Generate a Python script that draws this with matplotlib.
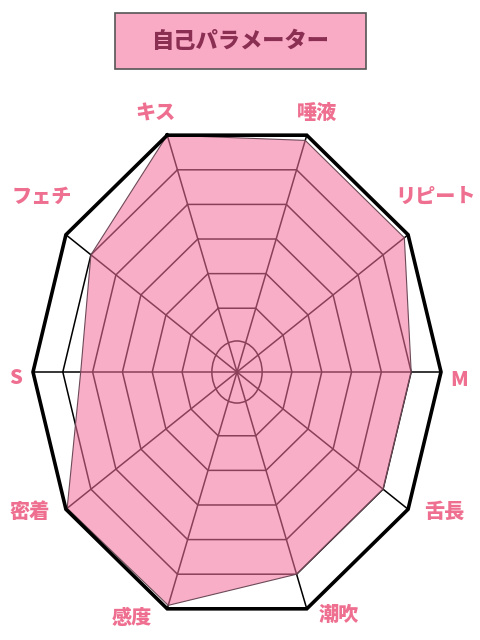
import numpy as np
import matplotlib.pyplot as plt
from matplotlib.patches import Rectangle, Ellipse

plt.rcParams['font.family'] = ['Noto Sans CJK JP', 'DejaVu Sans']

# data: categories clockwise from the top-left corner
title = '自己パラメーター'
categories = ['キス', '唾液', 'リピート', 'M', '舌長', '潮吹', '感度', '密着', 'S', 'フェチ']
values = [7.0, 6.85, 6.85, 6.0, 6.0, 6.0, 6.9, 6.95, 5.4, 6.0]
ring_levels = [2, 3, 4, 5, 6]
circle_level = 1
max_level = 7

# layout (units are pixels, chart centre at origin)
angles = np.deg2rad([110, 70, 33, 0, -33, -70, -110, -147, 180, 147])
rx, ry = 204, 252
label_offsets = [(-12, 22), (10, 22), (27, 38), (18, -8), (36, -3),
                 (32, -6), (-35, -9), (-36, -3), (-17, -6), (-24, 38)]

pink = '#F9AAC5'
label_col = '#EE6F90'


def frac(level):
    # rings don't start at zero, the small circle sits at ~1/8 of the radius
    return (29.67 * np.asarray(level, dtype=float) - 4.67) / (29.67 * max_level - 4.67)


def poly(levels):
    f = frac(levels)
    x = rx * f * np.cos(angles)
    y = ry * f * np.sin(angles)
    return np.append(x, x[0]), np.append(y, y[0])


fig = plt.figure(figsize=(4.8, 6.4), dpi=100)
ax = fig.add_axes([0, 0, 1, 1])
ax.set_xlim(-237, 243)
ax.set_ylim(-268, 372)
ax.axis('off')

# grid rings + spokes (drawn under the translucent fill)
for lv in ring_levels:
    gx, gy = poly([lv] * len(categories))
    ax.plot(gx, gy, color='black', lw=1.1, zorder=1)
fc = frac(circle_level)
ax.add_patch(Ellipse((0, 0), 2 * rx * fc, 2 * ry * fc, fill=False,
                     edgecolor='black', lw=1.1, zorder=1))
ox, oy = poly([max_level] * len(categories))
for i in range(len(categories)):
    ax.plot([0, ox[i]], [0, oy[i]], color='black', lw=1.1, zorder=1)

# data polygon
dx_, dy_ = poly(values)
ax.fill(dx_, dy_, color='#F5719E', alpha=0.57, lw=0, zorder=2)
ax.plot(dx_, dy_, color='#6d4a58', lw=0.8, zorder=3)

# outer frame
ax.plot(ox, oy, color='black', lw=2.6, zorder=4, solid_joinstyle='miter')

# axis labels
for i, cat in enumerate(categories):
    offx, offy = label_offsets[i]
    ax.text(ox[i] + offx, oy[i] + offy, cat, ha='center', va='center',
            fontsize=14.5, fontweight='heavy', color=label_col)

# title box
fig.patches.append(Rectangle((115 / 480, 1 - 69 / 640), 251 / 480, 56 / 640,
                             transform=fig.transFigure, facecolor=pink,
                             edgecolor='#555555', lw=1.2))
fig.text(240.5 / 480, 1 - 41 / 640, title, ha='center', va='center',
         fontsize=16, fontweight='heavy', color='#8A2F52')

fig.savefig('out.png', dpi=100)
